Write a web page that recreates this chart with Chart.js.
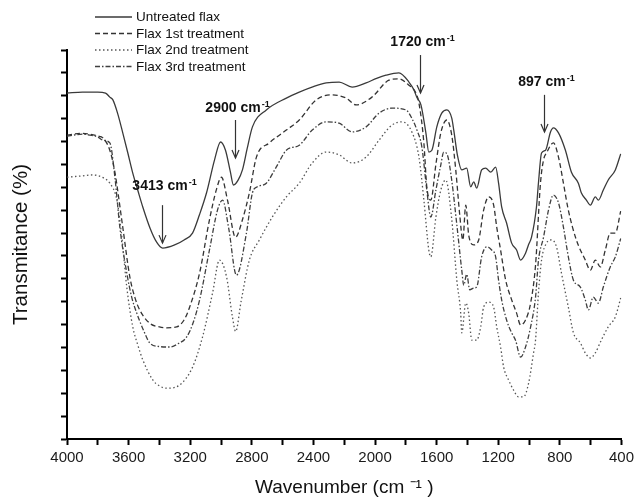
<!DOCTYPE html>
<html>
<head>
<meta charset="utf-8">
<title>FTIR spectra of flax</title>
<script src="https://cdn.jsdelivr.net/npm/chart.js@4.4.1/dist/chart.umd.min.js"></script>
<style>
  html, body { margin: 0; padding: 0; background: #fff; }
  #wrap { width: 638px; height: 500px; position: relative; }
</style>
</head>
<body>
<div id="wrap"><canvas id="ftir-chart"></canvas></div>
<script>
// Spectra: [wavenumber (cm-1), transmittance (%)]
const untreated = [
  [4000, 75.6], [3900, 75.8], [3800, 75.8], [3750, 75.6], [3722, 74.7], [3702, 74.1],
  [3670, 71.0], [3638, 66.9], [3605, 62.5], [3573, 58.1], [3540, 54.3], [3508, 50.7],
  [3460, 46.0], [3418, 43.0], [3379, 41.7], [3301, 42.4], [3240, 43.5], [3185, 45.0],
  [3140, 49.0], [3094, 53.8], [3042, 61.0], [3003, 64.9], [2971, 63.1], [2940, 58.5],
  [2919, 55.5], [2890, 56.5], [2861, 58.8], [2830, 63.5], [2796, 68.2], [2706, 71.9],
  [2576, 74.5], [2492, 75.8], [2400, 77.0], [2317, 77.8], [2233, 78.0], [2149, 76.9],
  [2058, 77.8], [1990, 78.8], [1929, 79.5], [1845, 80.0], [1780, 78.0], [1748, 76.3],
  [1728, 74.6], [1702, 73.0], [1670, 66.9], [1651, 62.7], [1631, 63.1], [1599, 68.2],
  [1567, 71.2], [1534, 71.9], [1502, 70.1], [1489, 67.5], [1465, 62.0], [1437, 58.8],
  [1405, 59.2], [1379, 55.1], [1359, 56.2], [1340, 54.8], [1308, 58.8], [1282, 59.2],
  [1249, 58.3], [1217, 59.4], [1198, 55.9], [1178, 50.7], [1146, 47.2], [1113, 42.8],
  [1081, 41.3], [1055, 39.1], [1023, 40.6], [1003, 42.5], [984, 44.1], [952, 50.7],
  [939, 56.0], [919, 62.5], [893, 63.1], [861, 67.1], [842, 68.0], [809, 66.9],
  [764, 63.1], [725, 58.3], [680, 55.9], [661, 53.8], [628, 52.2], [602, 51.1],
  [570, 52.9], [550, 52.2], [518, 54.4], [486, 56.6], [440, 58.8], [405, 62.3]
];

const firstTreatment = [
  [4000, 66.4], [3900, 66.8], [3851, 66.6], [3800, 66.2], [3767, 65.8], [3722, 63.1],
  [3690, 58.5], [3676, 55.5], [3638, 46.3], [3592, 35.4], [3560, 31.0], [3528, 28.2],
  [3463, 25.3], [3400, 24.5], [3353, 24.3], [3288, 24.5], [3240, 26.0], [3204, 28.8],
  [3139, 36.3], [3075, 47.9], [3030, 54.5], [2997, 57.2], [2958, 52.2], [2906, 44.1],
  [2861, 47.9], [2816, 53.8], [2770, 61.6], [2686, 64.7], [2576, 67.5], [2492, 69.7],
  [2382, 74.1], [2278, 75.2], [2188, 74.5], [2123, 73.0], [2020, 74.7], [1910, 78.4],
  [1845, 78.7], [1780, 77.3], [1735, 75.6], [1715, 73.4], [1683, 64.7], [1664, 55.1],
  [1638, 52.2], [1605, 60.0], [1573, 66.9], [1534, 69.7], [1502, 66.4], [1476, 58.8],
  [1450, 48.9], [1430, 43.5], [1411, 51.1], [1392, 44.6], [1359, 42.4], [1327, 43.5],
  [1295, 50.0], [1262, 52.9], [1230, 51.1], [1210, 46.3], [1185, 41.3], [1152, 34.7],
  [1113, 30.4], [1081, 27.5], [1055, 24.9], [1023, 26.0], [990, 29.7], [958, 38.0],
  [926, 55.9], [906, 61.0], [887, 62.5], [842, 64.7], [809, 61.6], [777, 55.9],
  [745, 50.0], [693, 43.5], [635, 39.1], [602, 36.9], [570, 39.1], [537, 37.6],
  [505, 41.3], [473, 45.0], [440, 45.0], [405, 49.8]
];

const secondTreatment = [
  [4000, 57.2], [3900, 57.5], [3832, 57.7], [3760, 57.0], [3722, 55.9], [3676, 52.2],
  [3644, 44.1], [3612, 33.2], [3573, 24.5], [3540, 20.5], [3508, 17.3], [3443, 12.9],
  [3400, 11.6], [3353, 11.1], [3269, 11.8], [3185, 15.7], [3120, 22.3], [3055, 31.9],
  [3010, 39.1], [2964, 35.4], [2926, 26.7], [2905, 23.5], [2870, 30.0], [2816, 39.1],
  [2751, 43.5], [2667, 48.5], [2576, 52.9], [2492, 55.9], [2408, 60.3], [2317, 62.7],
  [2233, 62.1], [2149, 60.3], [2058, 61.6], [1974, 65.3], [1890, 68.6], [1825, 69.3],
  [1761, 67.1], [1715, 61.6], [1683, 52.2], [1651, 41.3], [1638, 39.8], [1605, 48.5],
  [1573, 54.4], [1541, 56.6], [1502, 48.0], [1469, 34.7], [1444, 27.5], [1437, 23.2],
  [1411, 29.7], [1392, 27.5], [1372, 21.6], [1340, 21.6], [1314, 24.5], [1295, 28.8],
  [1262, 29.9], [1230, 28.8], [1210, 24.5], [1185, 20.1], [1165, 15.7], [1133, 12.9],
  [1101, 10.7], [1068, 9.2], [1036, 9.2], [1003, 12.2], [971, 18.8], [958, 21.6],
  [939, 31.9], [919, 39.1], [887, 42.8], [855, 43.5], [822, 42.0], [790, 36.3],
  [745, 28.8], [712, 23.2], [667, 21.0], [635, 18.8], [602, 17.7], [570, 18.8],
  [531, 21.6], [486, 24.5], [440, 26.7], [405, 30.8]
];

const thirdTreatment = [
  [4000, 66.2], [3900, 66.6], [3851, 66.4], [3800, 66.0], [3767, 65.3], [3722, 64.7],
  [3689, 57.2], [3657, 46.3], [3612, 36.3], [3580, 31.0], [3547, 27.5], [3500, 23.5],
  [3463, 21.0], [3400, 20.2], [3333, 20.1], [3280, 20.8], [3223, 22.3], [3180, 25.5],
  [3139, 30.4], [3075, 41.3], [3023, 50.0], [2990, 52.2], [2950, 46.0], [2900, 35.8],
  [2835, 45.0], [2796, 53.8], [2764, 55.1], [2706, 55.9], [2640, 59.5], [2576, 63.1],
  [2492, 64.2], [2408, 67.5], [2317, 69.3], [2233, 69.0], [2149, 67.1], [2058, 68.2],
  [1974, 71.2], [1890, 72.3], [1799, 71.9], [1760, 70.0], [1728, 67.5], [1696, 63.8],
  [1664, 54.4], [1638, 48.5], [1605, 54.4], [1573, 59.9], [1554, 62.7], [1530, 62.0],
  [1502, 56.5], [1469, 46.8], [1437, 36.9], [1424, 33.6], [1405, 36.0], [1385, 32.6],
  [1359, 33.0], [1340, 33.2], [1308, 39.8], [1275, 42.0], [1243, 41.3], [1217, 39.8],
  [1198, 34.7], [1178, 30.4], [1146, 26.0], [1113, 23.2], [1088, 21.6], [1055, 17.9],
  [1023, 20.1], [990, 24.5], [958, 31.0], [939, 39.0], [906, 44.1], [874, 50.0],
  [842, 53.3], [809, 51.6], [777, 46.3], [745, 39.8], [712, 34.7], [667, 33.2],
  [635, 30.4], [615, 28.2], [583, 31.0], [550, 29.7], [518, 33.2], [473, 37.6],
  [440, 39.8], [405, 43.8]
];

const seriesNames = ['Untreated flax', 'Flax 1st treatment', 'Flax 2nd treatment', 'Flax 3rd treatment'];

// Band labels: text shown and wavenumber the arrow points at
const bandLabels = ['3413', '2900', '1720', '897'];
const bandArrowAt = [3380, 2910, 1710, 905];

const FONT = '"Liberation Sans", Arial, Helvetica, sans-serif';

function toPoints(pairs) {
  return pairs.map(p => ({ x: p[0], y: p[1] }));
}

// Legend with line samples, drawn at top-left above the plot
const lineLegend = {
  id: 'lineLegend',
  afterDraw(chart) {
    const ctx = chart.ctx;
    const area = chart.chartArea;
    const x0 = area.left + 28;
    const y0 = area.top - 33;
    ctx.save();
    chart.data.datasets.forEach((ds, i) => {
      const y = y0 + i * 16.5;
      ctx.strokeStyle = ds.borderColor;
      ctx.lineWidth = ds.borderWidth;
      ctx.setLineDash(ds.borderDash || []);
      ctx.beginPath();
      ctx.moveTo(x0, y);
      ctx.lineTo(x0 + 37, y);
      ctx.stroke();
      ctx.setLineDash([]);
      ctx.fillStyle = '#111';
      ctx.font = '13.5px ' + FONT;
      ctx.textBaseline = 'middle';
      ctx.textAlign = 'left';
      ctx.fillText(ds.label, x0 + 41, y + 0.5);
    });
    ctx.restore();
  }
};

// Arrows + bold "xxxx cm-1" labels for the marked bands
const bandArrows = {
  id: 'bandArrows',
  afterDraw(chart) {
    const ctx = chart.ctx;
    const xs = chart.scales.x;
    const ys = chart.scales.y;
    // text baseline, arrow tail, arrow tip (in transmittance units)
    const place = [
      [54.4, 51.1, 42.8],
      [71.4, 69.7, 61.4],
      [85.9, 83.9, 75.6],
      [77.1, 75.2, 67.1]
    ];
    ctx.save();
    bandLabels.forEach((label, i) => {
      const x = Math.round(xs.getPixelForValue(bandArrowAt[i])) + 0.5;
      const yText = ys.getPixelForValue(place[i][0]);
      const yTail = ys.getPixelForValue(place[i][1]);
      const yTip = ys.getPixelForValue(place[i][2]);

      ctx.strokeStyle = '#333';
      ctx.lineWidth = 1.2;
      ctx.beginPath();
      ctx.moveTo(x, yTail);
      ctx.lineTo(x, yTip);
      ctx.stroke();
      ctx.beginPath();
      ctx.moveTo(x - 3.5, yTip - 8);
      ctx.lineTo(x, yTip);
      ctx.lineTo(x + 3.5, yTip - 8);
      ctx.stroke();

      const main = label + ' cm';
      ctx.font = 'bold 14px ' + FONT;
      const wMain = ctx.measureText(main).width;
      ctx.font = 'bold 9px ' + FONT;
      const wSup = ctx.measureText('-1').width;
      const left = x + 2 - (wMain + wSup + 1) / 2;
      ctx.fillStyle = '#111';
      ctx.textAlign = 'left';
      ctx.textBaseline = 'alphabetic';
      ctx.font = 'bold 14px ' + FONT;
      ctx.fillText(main, left, yText);
      ctx.font = 'bold 9px ' + FONT;
      ctx.fillText('-1', left + wMain + 1, yText - 5);
    });
    ctx.restore();
  }
};

const styles = [
  { color: '#3a3a3a', dash: [] },
  { color: '#333333', dash: [5, 3] },
  { color: '#555555', dash: [1.5, 2.5] },
  { color: '#3f3f3f', dash: [5, 2, 1.5, 2] }
];
const allSeries = [untreated, firstTreatment, secondTreatment, thirdTreatment];

const datasets = allSeries.map((s, i) => ({
  label: seriesNames[i],
  data: toPoints(s),
  borderColor: styles[i].color,
  borderDash: styles[i].dash,
  borderWidth: 1.3,
  pointRadius: 0,
  fill: false,
  cubicInterpolationMode: 'monotone'
}));

Chart.defaults.font.family = FONT;
Chart.defaults.color = '#111';

const axisGrid = {
  drawOnChartArea: false,
  tickLength: 6,
  tickWidth: 2,
  tickColor: '#000'
};

new Chart(document.getElementById('ftir-chart'), {
  type: 'line',
  data: { datasets: datasets },
  options: {
    responsive: true,
    maintainAspectRatio: false,
    animation: false,
    devicePixelRatio: 1,
    layout: { padding: { top: 50, right: 15, bottom: 0, left: 0 } },
    plugins: {
      legend: { display: false },
      tooltip: { enabled: false }
    },
    scales: {
      x: {
        type: 'linear',
        reverse: true,
        min: 400,
        max: 4000,
        ticks: {
          stepSize: 200,
          autoSkip: false,
          maxRotation: 0,
          padding: 4,
          font: { size: 15 },
          color: '#1a1a1a',
          callback: v => (v % 400 === 0 ? String(v) : '')
        },
        grid: axisGrid,
        border: { color: '#000', width: 2 },
        title: {
          display: true,
          text: 'Wavenumber (cm \u207B\u00B9 )',
          font: { size: 19 },
          padding: { top: 0, bottom: 1 }
        },
        afterFit: s => { s.height = 61; }
      },
      y: {
        type: 'linear',
        min: 0,
        max: 85,
        ticks: { stepSize: 5, display: false },
        grid: axisGrid,
        border: { color: '#000', width: 2 },
        title: {
          display: true,
          text: 'Transmitance (%)',
          font: { size: 20.5 },
          padding: { top: 9, bottom: 0 }
        },
        afterFit: s => { s.width = 67; }
      }
    }
  },
  plugins: [lineLegend, bandArrows]
});
</script>
</body>
</html>
